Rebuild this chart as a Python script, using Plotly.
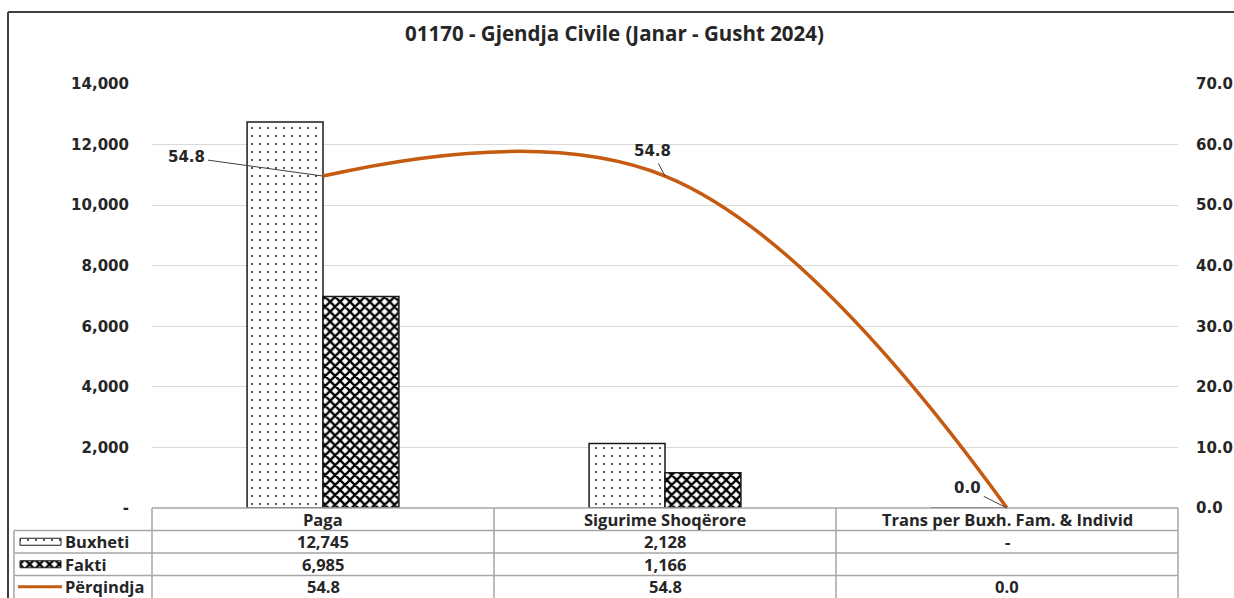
import plotly.graph_objects as go

# ---- data -------------------------------------------------------------
categories = ["Paga", "Sigurime Shoqërore", "Trans per Buxh. Fam. & Individ"]
buxheti = [12745, 2128, 0]
fakti = [6985, 1166, None]
perqindja = [54.8, 54.8, 0.0]

left_tickvals = [0, 2000, 4000, 6000, 8000, 10000, 12000, 14000]
right_tickvals = [0, 10, 20, 30, 40, 50, 60, 70]

title_text = "01170 - Gjendja Civile (Janar - Gusht 2024)"
series_names = ["Buxheti", "Fakti", "Përqindja"]


def fmt_amount(v):
    if v is None:
        return ""
    return "-" if v == 0 else f"{v:,.0f}"


left_ticktext = [fmt_amount(v) for v in left_tickvals]
right_ticktext = [f"{v:.1f}" for v in right_tickvals]

# ---- geometry (pixels) ------------------------------------------------
W, H = 1234, 598
PL, PR, PT, PB = 152, 1178, 84, 508          # plot area
TABLE_ROWS = [508, 530.5, 553, 575.5, 598]    # table row boundaries
LEG_X = 14                                    # left edge of legend column

ORANGE = "rgb(197,90,17)"
GRID = "#d9d9d9"
TABLE_LINE = "#a6a6a6"
TXT = "#262626"

tick_font = dict(family="DejaVu Sans", size=15, color=TXT, weight="bold")
table_font = dict(family="Open Sans", size=16.5, color=TXT, weight="bold")
title_font = dict(family="Open Sans", size=20.5, color=TXT, weight="bold")

dots = dict(shape=".", size=8, solidity=0.05, fgcolor="#222222", bgcolor="white", fillmode="replace")
checks = dict(shape="x", size=7, solidity=0.55, fgcolor="black", bgcolor="white", fillmode="replace")
bar_line = dict(color="#1a1a1a", width=1.5)

fig = go.Figure()

fig.add_bar(x=categories, y=buxheti, name=series_names[0],
            marker=dict(color="white", line=bar_line, pattern=dots), hoverinfo="skip")
fig.add_bar(x=categories, y=fakti, name=series_names[1],
            marker=dict(color="white", line=bar_line, pattern=checks), hoverinfo="skip")
fig.add_scatter(x=categories, y=perqindja, name=series_names[2], yaxis="y2", mode="lines",
                line=dict(color=ORANGE, width=3.5, shape="spline", smoothing=1.15),
                hoverinfo="skip")

# legend keys inside the data table (pixel overlay axes)
row_centers = [(TABLE_ROWS[i] + TABLE_ROWS[i + 1]) / 2 for i in range(len(TABLE_ROWS) - 1)]
key_x0, key_x1 = 20, 61
for name, pat, yc in [(series_names[0], dots, row_centers[1]), (series_names[1], checks, row_centers[2])]:
    fig.add_bar(x=[key_x1 - key_x0], base=[key_x0], y=[yc], width=[7], orientation="h",
                xaxis="x3", yaxis="y3", hoverinfo="skip",
                marker=dict(color="white", line=dict(color="#1a1a1a", width=1), pattern=pat))

shapes = []
# chart frame
shapes.append(dict(type="line", xref="x3", yref="y3", x0=8, y0=12, x1=W, y1=12,
                   line=dict(color="#404040", width=2)))
shapes.append(dict(type="line", xref="x3", yref="y3", x0=8, y0=12, x1=8, y1=H,
                   line=dict(color="#404040", width=2)))
# line key
shapes.append(dict(type="line", xref="x3", yref="y3", x0=18, x1=62,
                   y0=row_centers[3], y1=row_centers[3], line=dict(color=ORANGE, width=3)))

# data table grid
col_w = (PR - PL) / len(categories)
col_edges = [PL + i * col_w for i in range(len(categories) + 1)]
tl = dict(color=TABLE_LINE, width=1.5)
shapes.append(dict(type="line", xref="x3", yref="y3", x0=PL, x1=PR, y0=TABLE_ROWS[0], y1=TABLE_ROWS[0], line=tl))
for yb in TABLE_ROWS[1:-1]:
    shapes.append(dict(type="line", xref="x3", yref="y3", x0=LEG_X, x1=PR, y0=yb, y1=yb, line=tl))
for xe in col_edges:
    shapes.append(dict(type="line", xref="x3", yref="y3", x0=xe, x1=xe, y0=TABLE_ROWS[0], y1=H, line=tl))
shapes.append(dict(type="line", xref="x3", yref="y3", x0=LEG_X, x1=LEG_X, y0=TABLE_ROWS[1], y1=H, line=tl))

annotations = []
annotations.append(dict(text=title_text, xref="x3", yref="y3", x=614, y=33, showarrow=False,
                        font=title_font))

# table header and values
row_values = [
    [fmt_amount(v) for v in buxheti],
    [fmt_amount(v) for v in fakti],
    [f"{v:.1f}" for v in perqindja],
]
for j, cat in enumerate(categories):
    xc = (col_edges[j] + col_edges[j + 1]) / 2
    annotations.append(dict(text=cat, xref="x3", yref="y3", x=xc, y=row_centers[0],
                            showarrow=False, font=table_font))
    for r, vals in enumerate(row_values):
        annotations.append(dict(text=vals[j], xref="x3", yref="y3", x=xc, y=row_centers[r + 1],
                                showarrow=False, font=table_font))
for r, name in enumerate(series_names):
    annotations.append(dict(text=name, xref="x3", yref="y3", x=63, y=row_centers[r + 1],
                            xanchor="left", showarrow=False, font=table_font))

# percentage data labels with leader lines
label_offsets = [(-137, -19), (-13, -25), (-40, -20)]
for cat, v, (ax, ay) in zip(categories, perqindja, label_offsets):
    annotations.append(dict(text=f"{v:.1f}", xref="x", yref="y2", x=cat, y=v, ax=ax, ay=ay,
                            showarrow=True, arrowhead=0, arrowwidth=1, arrowcolor="#404040",
                            standoff=0, startstandoff=2, font=tick_font))

fig.update_layout(
    template="none",
    width=W, height=H,
    margin=dict(l=0, r=0, t=0, b=0, pad=0, autoexpand=False),
    paper_bgcolor="white", plot_bgcolor="rgba(0,0,0,0)",
    showlegend=False,
    barmode="group", bargap=0.556, bargroupgap=0,
    xaxis=dict(domain=[PL / W, PR / W], anchor="y", showticklabels=False, showgrid=False,
               zeroline=False, showline=False, ticks="", automargin=False),
    yaxis=dict(domain=[(H - PB) / H, (H - PT) / H], anchor="x", range=[0, 14000],
               tickvals=left_tickvals, ticktext=left_ticktext, tickfont=tick_font,
               gridcolor=GRID, gridwidth=1, zeroline=False, showline=False, ticks="",
               ticklabelstandoff=22, automargin=False),
    yaxis2=dict(overlaying="y", side="right", anchor="x", range=[0, 70],
                tickvals=right_tickvals, ticktext=right_ticktext, tickfont=tick_font,
                showgrid=False, zeroline=False, showline=False, ticks="",
                ticklabelstandoff=17, automargin=False),
    xaxis3=dict(domain=[0, 1], anchor="y3", range=[0, W], visible=False, automargin=False),
    yaxis3=dict(domain=[0, 1], anchor="x3", range=[H, 0], visible=False, automargin=False),
    shapes=shapes,
    annotations=annotations,
)

fig.write_html("out.html")
